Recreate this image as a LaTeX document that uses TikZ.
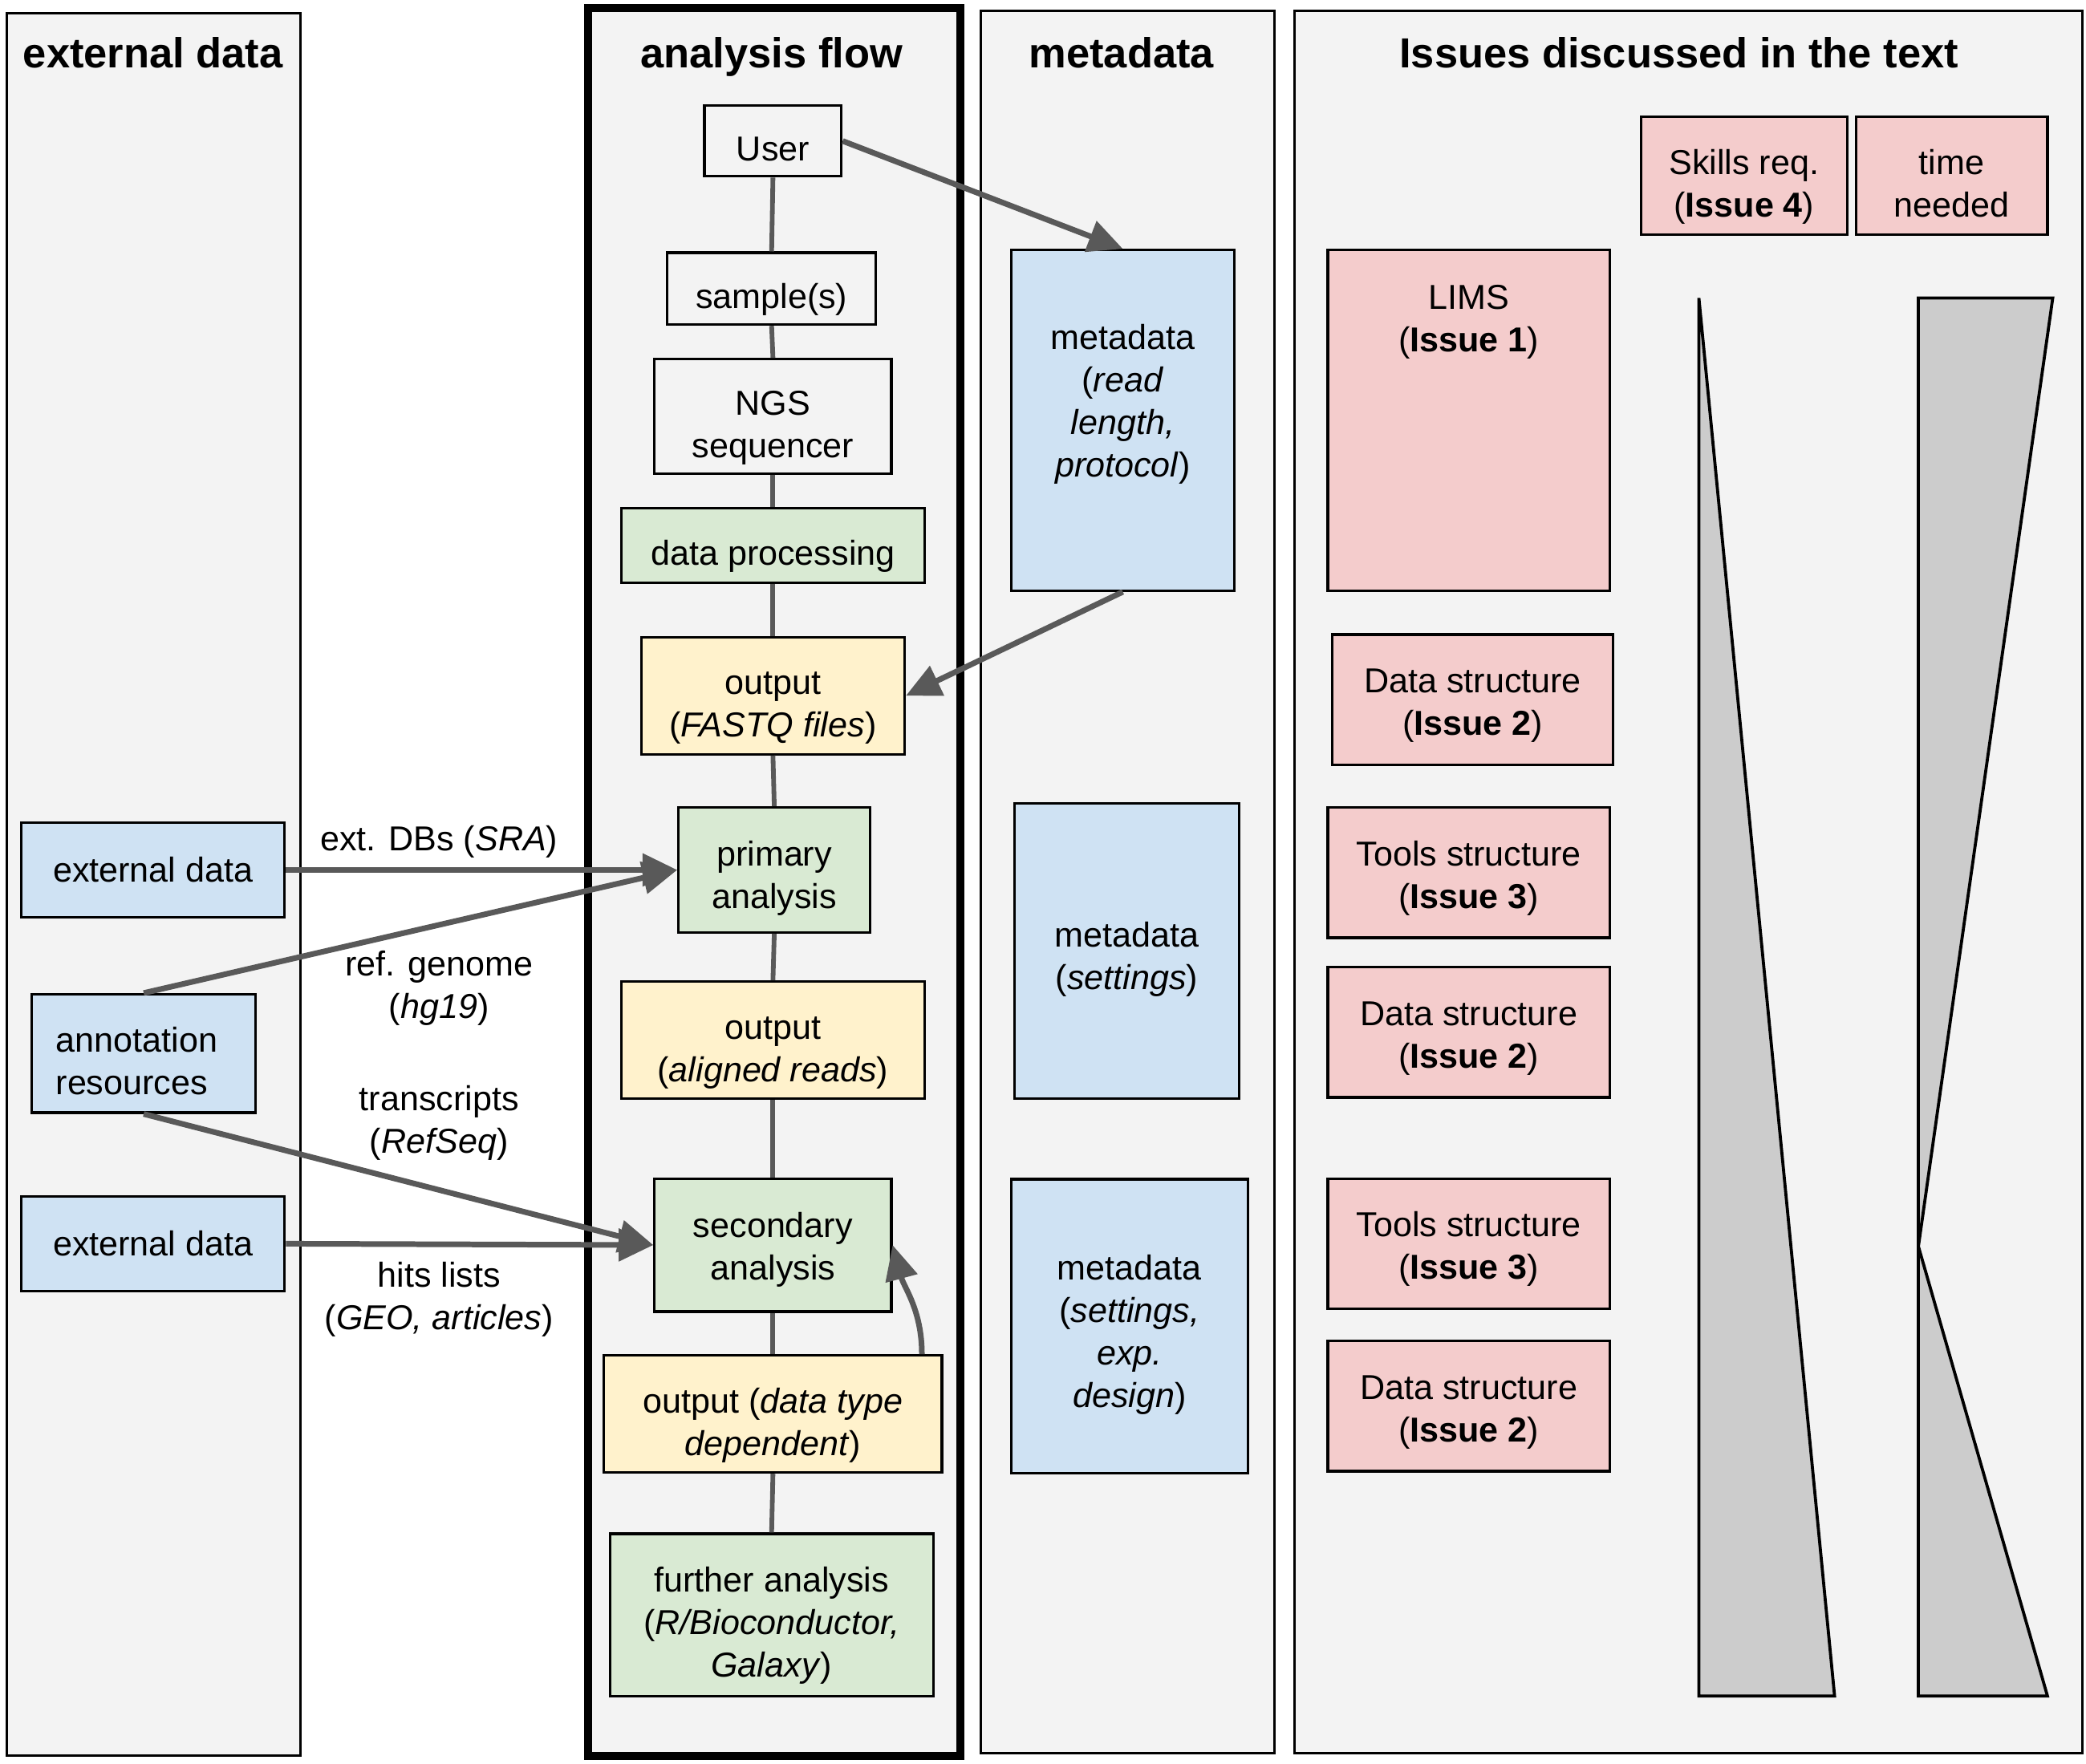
\documentclass[tikz,border=0pt]{standalone}
\usepackage{fontspec}
\setmainfont{Liberation Sans}
\usepackage{xcolor}
\usetikzlibrary{arrows.meta,positioning,calc}

\definecolor{panelgray}{HTML}{F3F3F3}
\definecolor{procgreen}{HTML}{D9EAD3}
\definecolor{outyellow}{HTML}{FFF2CC}
\definecolor{metablue}{HTML}{CFE2F3}
\definecolor{issuepink}{HTML}{F4CCCC}
\definecolor{linkgray}{HTML}{595959}
\definecolor{wedgegray}{HTML}{CCCCCC}

\tikzset{
  body/.style={font=\fontsize{14.8}{18.2}\selectfont},
  head/.style={font=\fontsize{18}{22}\selectfont\bfseries, anchor=base},
  panel/.style={draw, line width=1pt, fill=panelgray},
  box/.style={body, draw, line width=1.1pt, align=center, inner sep=0pt},
  rows/.style={text height=#1, text depth=0.7pt},
  flow/.style={box, fill=panelgray},
  proc/.style={box, fill=procgreen},
  outp/.style={box, fill=outyellow},
  meta/.style={box, fill=metablue},
  issue/.style={box, fill=issuepink},
  link/.style={draw=linkgray, line width=2pt},
  arr/.style={draw=linkgray, line width=2.4pt, -{Triangle[length=0.52cm, width=0.48cm]}},
  wedge/.style={draw, line width=1.3pt, fill=wedgegray, line join=miter},
}

\begin{document}
\begin{tikzpicture}[x=0.02cm, y=-0.02cm]
    \useasboundingbox (0,0) rectangle (1568,1326);

    % Column panels
    \draw[panel] (5,10) rectangle (226,1320);
    \draw[panel, line width=3.3pt] (442,6) rectangle (722,1320);
    \draw[panel] (737,8) rectangle (958,1318);
    \draw[panel] (973,8) rectangle (1565,1318);

    \node[head] (hExt) at (115,51) {external data};
    \node[head] (hFlow) at (580,51) {analysis flow};
    \node[head] (hMeta) at (843,51) {metadata};
    \node[head] (hIssue) at (1262,51) {Issues discussed in the text};

    % Analysis flow
    \node[flow, minimum width=2.06cm, minimum height=1.06cm, rows=17.8pt] (user) at (581,106) {User};
    \node[flow, minimum width=3.14cm, minimum height=1.08cm, rows=17.8pt] (sample) at (580,217) {sample(s)};
    \node[flow, minimum width=3.56cm, minimum height=1.72cm, rows=36pt] (ngs) at (581,313) {NGS\\sequencer};
    \node[proc, minimum width=4.56cm, minimum height=1.12cm, rows=17.8pt] (proc) at (581,410) {data processing};
    \node[outp, minimum width=3.96cm, minimum height=1.76cm, rows=36pt] (fastq) at (581,523) {output\\(\textit{FASTQ files})};
    \node[proc, minimum width=2.88cm, minimum height=1.88cm, rows=33.6pt] (prim) at (582,654) {primary\\analysis};
    \node[outp, minimum width=4.56cm, minimum height=1.76cm, rows=36pt] (aligned) at (581,782) {output\\(\textit{aligned reads})};
    \node[proc, minimum width=3.56cm, minimum height=2cm, rows=30.2pt] (sec) at (581,936) {secondary\\analysis};
    \node[outp, minimum width=5.08cm, minimum height=1.76cm, rows=36pt] (typed) at (581,1063) {output (\textit{data type}\\\textit{dependent})};
    \node[proc, minimum width=4.86cm, minimum height=2.44cm, rows=54.2pt] (further) at (580,1214) {further analysis\\(\textit{R/Bioconductor,}\\\textit{Galaxy})};

    \foreach \a/\b in {user/sample, sample/ngs, ngs/proc, proc/fastq, fastq/prim,
                       prim/aligned, aligned/sec, sec/typed, typed/further}
        \draw[link] (\a.south) -- (\b.north);

    % Metadata
    \node[meta, minimum width=3.36cm, minimum height=5.12cm] (meta1) at (844,316) {};
    \node[body, align=center] (meta1txt) at (844,304) {metadata\\(\textit{read}\\\textit{length,}\\\textit{protocol})};
    \node[meta, minimum width=3.38cm, minimum height=4.44cm, rows=33.9pt] (meta2) at (847,715) {metadata\\(\textit{settings})};
    \node[meta, minimum width=3.56cm, minimum height=4.42cm, rows=70.3pt] (meta3) at (849,997) {metadata\\(\textit{settings,}\\\textit{exp.}\\\textit{design})};

    \draw[arr] (user.east) -- (meta1.north);
    \draw[arr] (meta1.south) -- (fastq.east);

    % External data
    \node[meta, minimum width=3.96cm, minimum height=1.42cm] (ext1) at (115,654) {external data};
    \node[meta, minimum width=3.36cm, minimum height=1.78cm, text width=2.64cm, align=left,
          text height=17.8pt, text depth=18.9pt] (annot) at (108,792) {annotation\\resources};
    \node[meta, minimum width=3.96cm, minimum height=1.42cm] (ext2) at (115,935) {external data};

    \draw[arr] (ext1.east) -- (prim.west);
    \draw[arr] (annot.north) -- (prim.west);
    \draw[arr] (annot.south) -- (sec.west);
    \draw[arr] (ext2.east) -- (sec.west);
    \draw[arr] ([xshift=-0.32cm]typed.north east) to[out=90, in=-75] (sec.east);

    \node[body] (lblSra) at (330,633) {ext. DBs (\textit{SRA})};
    \node[body, align=center] (lblGenome) at (330,743) {ref. genome\\(\textit{hg19})};
    \node[body, align=center] (lblRefseq) at (330,844) {transcripts\\(\textit{RefSeq})};
    \node[body, align=center] (lblHits) at (330,977) {hits lists\\(\textit{GEO, articles})};

    % Issues
    \node[issue, minimum width=3.10cm, minimum height=1.78cm, rows=36pt] (skills) at (1311,132) {Skills req.\\(\textbf{Issue 4})};
    \node[issue, minimum width=2.88cm, minimum height=1.78cm, rows=36pt] (time) at (1467,132) {time\\needed};
    \node[issue, minimum width=4.24cm, minimum height=5.12cm] (lims) at (1104,316) {};
    \node[body, align=center] (limstxt) at (1104,242) {LIMS\\(\textbf{Issue 1})};
    \node[issue, minimum width=4.22cm, minimum height=1.96cm, rows=31.3pt] (ds1) at (1107,526) {Data structure\\(\textbf{Issue 2})};
    \node[issue, minimum width=4.24cm, minimum height=1.96cm, rows=31.3pt] (ts1) at (1104,656) {Tools structure\\(\textbf{Issue 3})};
    \node[issue, minimum width=4.24cm, minimum height=1.96cm, rows=31.3pt] (ds2) at (1104,776) {Data structure\\(\textbf{Issue 2})};
    \node[issue, minimum width=4.24cm, minimum height=1.96cm, rows=31.3pt] (ts2) at (1104,935) {Tools structure\\(\textbf{Issue 3})};
    \node[issue, minimum width=4.24cm, minimum height=1.96cm, rows=31.3pt] (ds3) at (1104,1057) {Data structure\\(\textbf{Issue 2})};

    % Skills and time wedges
    \draw[wedge] (1277,224) -- (1379,1275) -- (1277,1275) -- cycle;
    \draw[wedge] (1442,224) -- (1543,224) -- (1442,937) -- (1539,1275) -- (1442,1275) -- cycle;
\end{tikzpicture}
\end{document}
